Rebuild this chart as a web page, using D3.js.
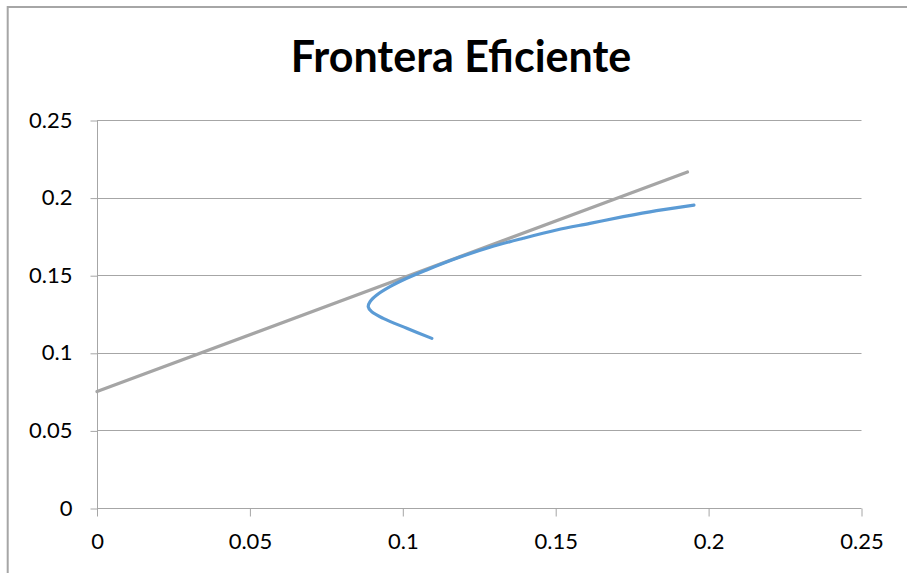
<!DOCTYPE html>
<html>
<head>
<meta charset="utf-8">
<script src="https://cdn.jsdelivr.net/npm/d3@7/dist/d3.min.js"></script>
<style>
  html, body { margin: 0; padding: 0; background: #fff; }
  svg { display: block; }
</style>
</head>
<body>
<svg id="chart" width="907" height="573"></svg>
<script>
// Efficient frontier: risk (x) vs expected return (y)
const frontierRisk   = [0.1095, 0.1013, 0.0936, 0.0898, 0.0887, 0.0893, 0.0915, 0.0958, 0.1013, 0.1078, 0.1176, 0.1285, 0.1394, 0.1503, 0.1612, 0.1721, 0.1830, 0.1952];
const frontierReturn = [0.1093, 0.1158, 0.1222, 0.1265, 0.1297, 0.1329, 0.1372, 0.1426, 0.1480, 0.1534, 0.1609, 0.1680, 0.1738, 0.1791, 0.1834, 0.1877, 0.1916, 0.1952];

// Capital market line
const cmlRisk   = [0, 0.1931];
const cmlReturn = [0.075, 0.2165];

const xTicks = [0, 0.05, 0.1, 0.15, 0.2, 0.25];
const yTicks = [0, 0.05, 0.1, 0.15, 0.2, 0.25];
const title = "Frontera Eficiente";

const svg = d3.select("#chart");
const font = "Lato, 'Open Sans', sans-serif";

// chart frame
svg.append("rect")
  .attr("x", 7.7).attr("y", 7)
  .attr("width", 1000).attr("height", 1000)
  .attr("fill", "none")
  .attr("stroke", "#a6a6a6")
  .attr("stroke-width", 2);

const x = d3.scaleLinear().domain([0, 0.25]).range([97, 861.5]);
const y = d3.scaleLinear().domain([0, 0.25]).range([508, 120]);

// horizontal gridlines
svg.append("g")
  .selectAll("line")
  .data(yTicks)
  .join("line")
  .attr("x1", x(0)).attr("x2", x(0.25))
  .attr("y1", d => Math.round(y(d)) + 0.5)
  .attr("y2", d => Math.round(y(d)) + 0.5)
  .attr("stroke", "#a6a6a6")
  .attr("stroke-width", 1);

// y axis
const yAxis = svg.append("g")
  .attr("transform", `translate(${Math.round(x(0)) + 0.5},0)`)
  .call(d3.axisLeft(y).tickValues(yTicks).tickSize(7).tickPadding(18)
        .tickFormat(d => String(d)));
yAxis.select(".domain").remove();
yAxis.append("line")
  .attr("x1", 0).attr("x2", 0)
  .attr("y1", y(0.25)).attr("y2", y(0) + 8)
  .attr("stroke", "#a6a6a6");
yAxis.selectAll(".tick line").attr("stroke", "#a6a6a6").attr("transform", "translate(0,0.5)");
yAxis.selectAll(".tick text")
  .attr("font-family", font).attr("font-size", 22).attr("fill", "#000");

// x axis
const xAxis = svg.append("g")
  .attr("transform", `translate(0,${Math.round(y(0)) + 0.5})`)
  .call(d3.axisBottom(x).tickValues(xTicks).tickSize(8).tickPadding(17)
        .tickFormat(d => String(d)));
xAxis.select(".domain").remove();
xAxis.selectAll(".tick line").attr("stroke", "#a6a6a6");
xAxis.selectAll(".tick text")
  .attr("font-family", font).attr("font-size", 22).attr("fill", "#000");

// capital market line
const cml = cmlRisk.map((r, i) => [r, cmlReturn[i]]);
svg.append("path")
  .datum(cml)
  .attr("d", d3.line().x(d => x(d[0])).y(d => y(d[1])))
  .attr("fill", "none")
  .attr("stroke", "#a5a5a5")
  .attr("stroke-width", 3.2)
  .attr("stroke-linecap", "round");

// efficient frontier
const frontier = frontierRisk.map((r, i) => [r, frontierReturn[i]]);
svg.append("path")
  .datum(frontier)
  .attr("d", d3.line().curve(d3.curveCatmullRom.alpha(0.5)).x(d => x(d[0])).y(d => y(d[1])))
  .attr("fill", "none")
  .attr("stroke", "#5b9bd5")
  .attr("stroke-width", 3.2)
  .attr("stroke-linecap", "round")
  .attr("stroke-linejoin", "round");

// title
svg.append("text")
  .attr("x", 461).attr("y", 72)
  .attr("text-anchor", "middle")
  .attr("font-family", font)
  .attr("font-weight", "bold")
  .attr("font-size", 43)
  .attr("fill", "#000")
  .text(title);
</script>
</body>
</html>
